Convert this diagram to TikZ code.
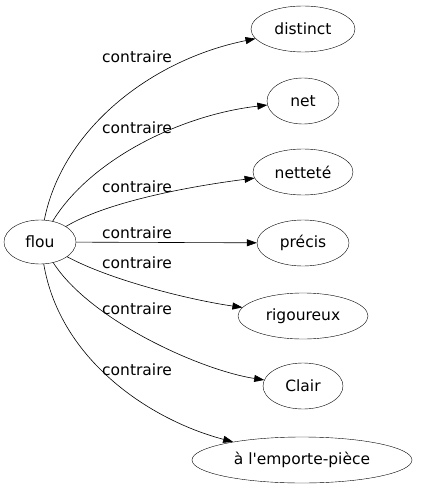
\documentclass[tikz,border=0pt]{standalone}
\usepackage{fontspec}
\setmainfont{DejaVu Sans}
\usetikzlibrary{shapes.geometric, arrows.meta}
\tikzset{word/.style={draw, ellipse, inner sep=0pt, minimum height=46bp}}
\tikzset{rel/.style={-{Triangle[length=10bp, width=7bp]}, line width=0.6bp}}
\tikzset{tag/.style={inner sep=0pt, anchor=center}}

\begin{document}
\begin{tikzpicture}[x=1bp, y=-1bp, font=\fontsize{15.5bp}{18bp}\selectfont]
            \useasboundingbox (0,0) rectangle (421,491);
            \node[word, minimum width=72bp, minimum height=44bp] (flou) at (40,242) {flou};
            \node[word, minimum width=104bp] (distinct) at (303,29) {distinct};
            \node[word, minimum width=72bp] (net) at (303,101) {net};
            \node[word, minimum width=100bp] (nettete) at (303,172) {netteté};
            \node[word, minimum width=92bp] (precis) at (303,243) {précis};
            \node[word, minimum width=130bp] (rigoureux) at (303,316) {rigoureux};
            \node[word, minimum width=80bp] (clair) at (303,386) {Clair};
            \node[word, minimum width=220bp] (emporte) at (302,460) {à l\textquotesingle emporte-pièce};
            \draw[rel] (flou) .. controls (62,130) and (150,60) .. (distinct);
            \draw[rel] (flou) .. controls (90,160) and (180,115) .. (net);
            \draw[rel] (flou) .. controls (110,200) and (200,185) .. (nettete);
            \draw[rel] (flou) -- (precis);
            \draw[rel] (flou) .. controls (110,280) and (190,300) .. (rigoureux);
            \draw[rel] (flou) .. controls (90,320) and (200,370) .. (clair);
            \draw[rel] (flou) .. controls (60,360) and (150,420) .. (emporte);
            \node[tag] (c1) at (137,57) {contraire};
            \node[tag] (c2) at (137,128) {contraire};
            \node[tag] (c3) at (137,187) {contraire};
            \node[tag] (c4) at (137,233) {contraire};
            \node[tag] (c5) at (137,263) {contraire};
            \node[tag] (c6) at (137,309) {contraire};
            \node[tag] (c7) at (137,370) {contraire};
        \end{tikzpicture}
\end{document}
